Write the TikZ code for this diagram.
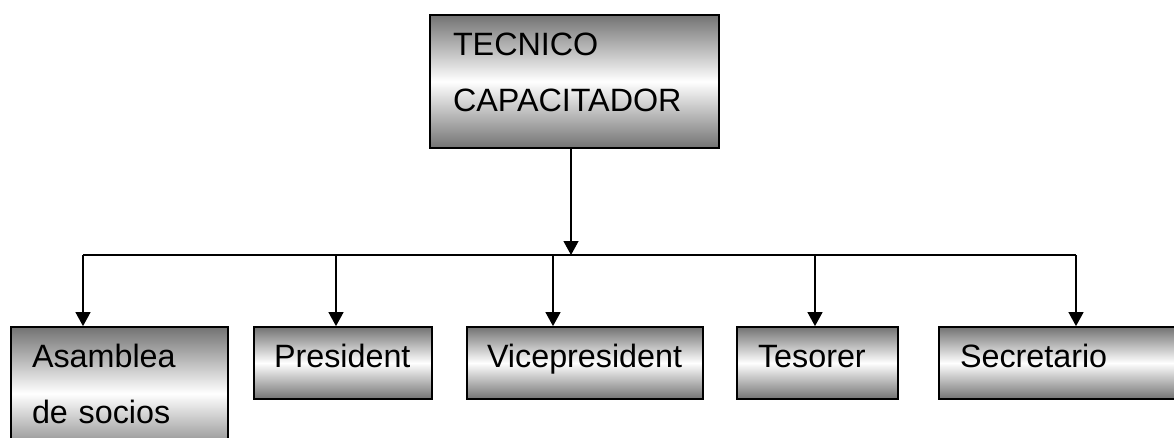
\documentclass[tikz,border=0pt]{standalone}
\usepackage{fontspec}
\setmainfont{Liberation Sans}
\usetikzlibrary{arrows.meta,positioning}
\definecolor{boxgray}{gray}{0.45}
\tikzset{%
	orgbox/.style  = {draw, line width=1.8pt, rectangle, top color=boxgray, bottom color=boxgray, middle color=white, align=left, inner xsep=21pt, inner ysep=0pt, text height=23pt, text depth=14pt, minimum height=72pt, font=\fontsize{32.3}{56}\selectfont},
	twoline/.style = {text depth=75pt, minimum height=133pt},
	arrow/.style   = {line width=1.3pt, -{Triangle[width=15pt,length=14pt]}},
}
\begin{document}
\begin{tikzpicture}[x=1pt,y=-1pt]
	\useasboundingbox (0,0) rectangle (1174,437);
	\clip (0,0) rectangle (1174,437);
	% boxes
	\node[orgbox, twoline, text width=243pt, inner xsep=23pt] (tecnico) at (574.5,81.5) {TECNICO\\CAPACITADOR};
	\node[orgbox, twoline, text width=175pt] (asamblea) at (119.5,393.5) {Asamblea\\de socios};
	\node[orgbox, text width=138pt, inner xsep=20pt] (president) at (343,363) {President};
	\node[orgbox, text width=196pt, inner xsep=20pt] (vice) at (585,363) {Vicepresident};
	\node[orgbox, text width=119pt] (tesorer) at (817.5,363) {Tesorer};
	\node[orgbox, text width=218pt] (secretario) at (1069,363) {Secretario};
	% branch points on the bus
	\coordinate (bus) at (571,255);
	\coordinate (ba) at (83,255);
	\coordinate (bp) at (336,255);
	\coordinate (bv) at (553,255);
	\coordinate (bt) at (815,255);
	\coordinate (bs) at (1076,255);
	% connectors
	\draw[arrow] (bus |- tecnico.south) -- (bus);
	\draw[line width=1.3pt] (ba) -- (bs);
	\draw[arrow] (ba) -- (ba |- asamblea.north);
	\draw[arrow] (bp) -- (bp |- president.north);
	\draw[arrow] (bv) -- (bv |- vice.north);
	\draw[arrow] (bt) -- (bt |- tesorer.north);
	\draw[arrow] (bs) -- (bs |- secretario.north);
\end{tikzpicture}
\end{document}
